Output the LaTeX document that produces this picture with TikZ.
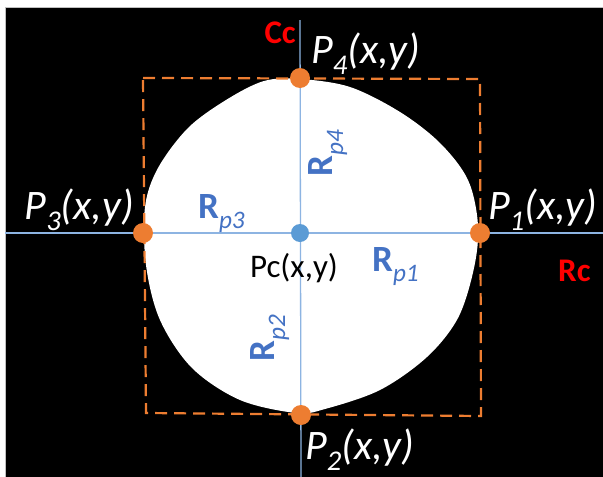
\documentclass[tikz,border=0pt]{standalone}
\usepackage{fontspec}
\setmainfont{Carlito}
\usetikzlibrary{positioning, calc}

\definecolor{dotorange}{HTML}{ED7D31}
\definecolor{dotblue}{HTML}{5B9BD5}
\definecolor{radblue}{HTML}{4472C4}
\definecolor{axisblue}{HTML}{8DB4E2}
\definecolor{framegray}{HTML}{BFBFBF}

% lowered index that scales with the current font
\newcommand{\lowidx}[1]{\raisebox{-0.28em}{\scalebox{0.68}{#1}}}

\begin{document}
\begin{tikzpicture}[x=1pt, y=-1pt,
    axis/.style={draw=axisblue, line width=1.3pt},
    edgedot/.style={circle, fill=dotorange, minimum size=20pt, inner sep=0pt},
    centdot/.style={circle, fill=dotblue, minimum size=18pt, inner sep=0pt},
    ptlabel/.style={text=white, font=\fontsize{42}{42}\selectfont\itshape, inner sep=0pt},
    radlabel/.style={text=radblue, font=\fontsize{37}{37}\selectfont\bfseries, inner sep=0pt},
    axlabel/.style={text=red, font=\fontsize{33}{33}\selectfont\bfseries, inner sep=0pt},
    bbox/.style={draw=dotorange, line width=2.2pt, dash pattern=on 12pt off 7pt},
]
    \useasboundingbox (0,0) rectangle (603,477);
    \fill[white] (0,0) rectangle (603,477);
    \filldraw[fill=black, draw=framegray, line width=0.8pt] (5,7) rectangle (604,478);

    % segmented region
    \fill[white] plot[smooth cycle, tension=0.55] coordinates {
        (300,79) (350,87) (400,112) (440,143) (468,180) (478,225)
        (474,268) (458,318) (427,357) (380,390) (325,409) (296,413)
        (240,400) (192,368) (160,320) (146,265) (145,207) (158,168)
        (188,128) (226,100) (264,81)};

    % bounding box of the region
    \draw[bbox] (143,78) -- (480,79) -- (481,416) -- (146,413) -- cycle;

    % row and column axes
    \coordinate (rcw) at (5,233);
    \coordinate (rce) at (603,233);
    \coordinate (cct) at (300,20);
    \coordinate (ccb) at (301,477);
    \draw[axis] (rcw) -- (rce);
    \draw[axis] (cct) -- (ccb);

    % points
    \node[edgedot] (p1) at (480,233) {};
    \node[edgedot] (p2) at (301,415) {};
    \node[edgedot] (p3) at (143,233) {};
    \node[edgedot] (p4) at (300,78) {};
    \node[centdot] (pc) at (300,233) {};

    % point labels
    \node[ptlabel, anchor=base west] (l4) at (311,63) {P\lowidx{4}(x,y)};
    \node[ptlabel, anchor=base east] (l3) at (134,219) {P\lowidx{3}(x,y)};
    \node[ptlabel, anchor=base west] (l1) at (488,219) {P\lowidx{1}(x,y)};
    \node[ptlabel, anchor=base west] (l2) at (305,459) {P\lowidx{2}(x,y)};
    \node[font=\fontsize{33}{33}\selectfont, inner sep=0pt, anchor=base] (lc) at (294,277) {Pc(x,y)};

    % radii
    \node[radlabel, anchor=base west] (r3) at (198,218) {R\lowidx{\mdseries\itshape p3}};
    \node[radlabel, anchor=base west] (r1) at (372,271) {R\lowidx{\mdseries\itshape p1}};
    \node[radlabel, rotate=90] (r4) at (328,153) {R\lowidx{\mdseries\itshape p4}};
    \node[radlabel, rotate=90] (r2) at (270,338) {R\lowidx{\mdseries\itshape p2}};

    % axis names
    \node[axlabel, anchor=base east] (cc) at (296,43) {Cc};
    \node[axlabel, anchor=base west] (rc) at (558,281) {Rc};
\end{tikzpicture}
\end{document}
